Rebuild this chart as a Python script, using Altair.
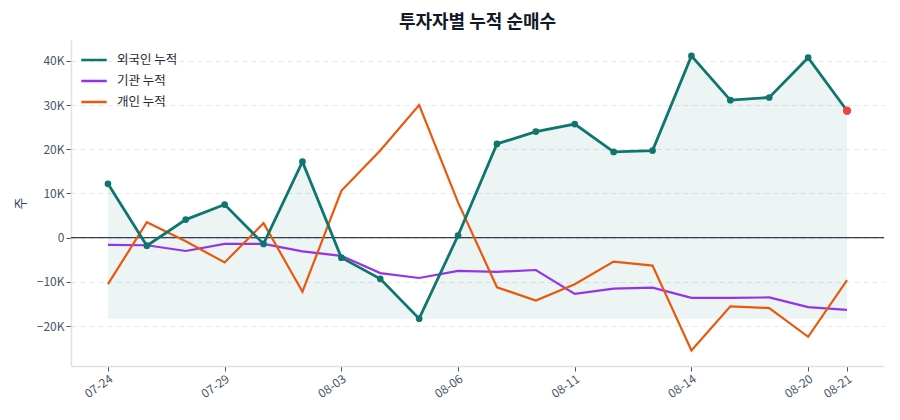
"""Cumulative net buying by investor type"""

import pandas as pd
import altair as alt

FONT = "Noto Sans CJK KR"

dates = [
    "07-24", "07-25", "07-28", "07-29", "07-31", "08-01", "08-03", "08-04",
    "08-05", "08-06", "08-07", "08-08", "08-11", "08-12", "08-13", "08-14",
    "08-18", "08-19", "08-20", "08-21",
]
tick_dates = ["07-24", "07-29", "08-03", "08-06", "08-11", "08-14", "08-20", "08-21"]

foreign = [12200, -1800, 4100, 7500, -1400, 17200, -4500, -9300, -18300, 500,
           21200, 24000, 25700, 19400, 19700, 41100, 31100, 31700, 40700, 28700]
institution = [-1600, -1700, -3000, -1400, -1400, -3100, -4100, -8000, -9100, -7500,
               -7700, -7300, -12700, -11500, -11300, -13600, -13600, -13500, -15700, -16300]
individual = [-10500, 3500, -800, -5600, 3300, -12200, 10600, 19700, 30000, 8000,
              -11200, -14200, -10500, -5400, -6300, -25500, -15500, -15900, -22400, -9600]

series_names = ["외국인 누적", "기관 누적", "개인 누적"]
series_colors = ["#0f766e", "#9333ea", "#ea580c"]

rows = []
for name, values in zip(series_names, [foreign, institution, individual]):
    for d, v in zip(dates, values):
        rows.append({"date": d, "series": name, "value": v})
df = pd.DataFrame(rows)
foreign_df = df[df["series"] == series_names[0]]

x_enc = alt.X(
    "date:O",
    sort=dates,
    scale=alt.Scale(type="point", padding=0.95),
    axis=alt.Axis(
        values=tick_dates, title=None, labelAngle=-35, labelAlign="right",
        labelBaseline="top", labelFontSize=12, labelColor="#475569",
        tickColor="#475569", tickSize=5, domainColor="#dde1e6", domainWidth=1.5,
        grid=False, labelPadding=2,
    ),
)
y_scale = alt.Scale(domain=[-29000, 44700], nice=False, zero=False)
y_enc = alt.Y(
    "value:Q",
    scale=y_scale,
    axis=alt.Axis(
        values=[-20000, -10000, 0, 10000, 20000, 30000, 40000],
        labelExpr="datum.value == 0 ? '0' : format(datum.value / 1000, 'd') + 'K'",
        title="주", titleFontSize=13, titleFontWeight="normal", titleColor="#334155",
        titlePadding=9, labelFontSize=12, labelColor="#475569",
        tickColor="#475569", tickSize=5, domainColor="#dde1e6", domainWidth=1.5,
        grid=True, gridColor="#e5e7eb", gridDash=[5, 4],
    ),
)

area = alt.Chart(foreign_df).transform_joinaggregate(
    low="min(value)"
).mark_area(color="#0f766e", opacity=0.08, line=False).encode(
    x=x_enc,
    y=y_enc,
    y2="low:Q",
)

zero_rule = alt.Chart(pd.DataFrame({"value": [0]})).mark_rule(
    color="#334155", strokeWidth=1.3
).encode(y=alt.Y("value:Q", scale=y_scale))

color_enc = alt.Color(
    "series:N",
    scale=alt.Scale(domain=series_names, range=series_colors),
    legend=alt.Legend(
        title=None, orient="none", legendX=9, legendY=6, symbolType="stroke",
        symbolStrokeWidth=2.5, symbolSize=650, labelFontSize=12.5,
        labelColor="#1f2937", rowPadding=-2, padding=0, labelOffset=9,
    ),
)

others = alt.Chart(df[df["series"] != series_names[0]]).mark_line(strokeWidth=2.2).encode(
    x=x_enc, y=y_enc, color=color_enc,
)

foreign_line = alt.Chart(foreign_df).mark_line(
    strokeWidth=2.8, point=alt.OverlayMarkDef(size=45, filled=True, opacity=1)
).encode(x=x_enc, y=y_enc, color=color_enc)

last_point = alt.Chart(foreign_df.tail(1)).mark_point(
    filled=True, size=70, color="#ef4444", opacity=1
).encode(x=x_enc, y=y_enc)

chart = (area + zero_rule + others + foreign_line + last_point).properties(
    width=813,
    height=326,
    autosize=alt.AutoSizeParams(type="none"),
    padding={"left": 63, "top": 32, "right": 8, "bottom": 46},
    title=alt.TitleParams(
        "투자자별 누적 순매수", fontSize=18, fontWeight="bold", color="#111827",
        anchor="middle", offset=8,
    ),
).configure(font=FONT).configure_view(stroke=None)

chart.save("out.html", embed_options={"renderer": "svg", "actions": False})
